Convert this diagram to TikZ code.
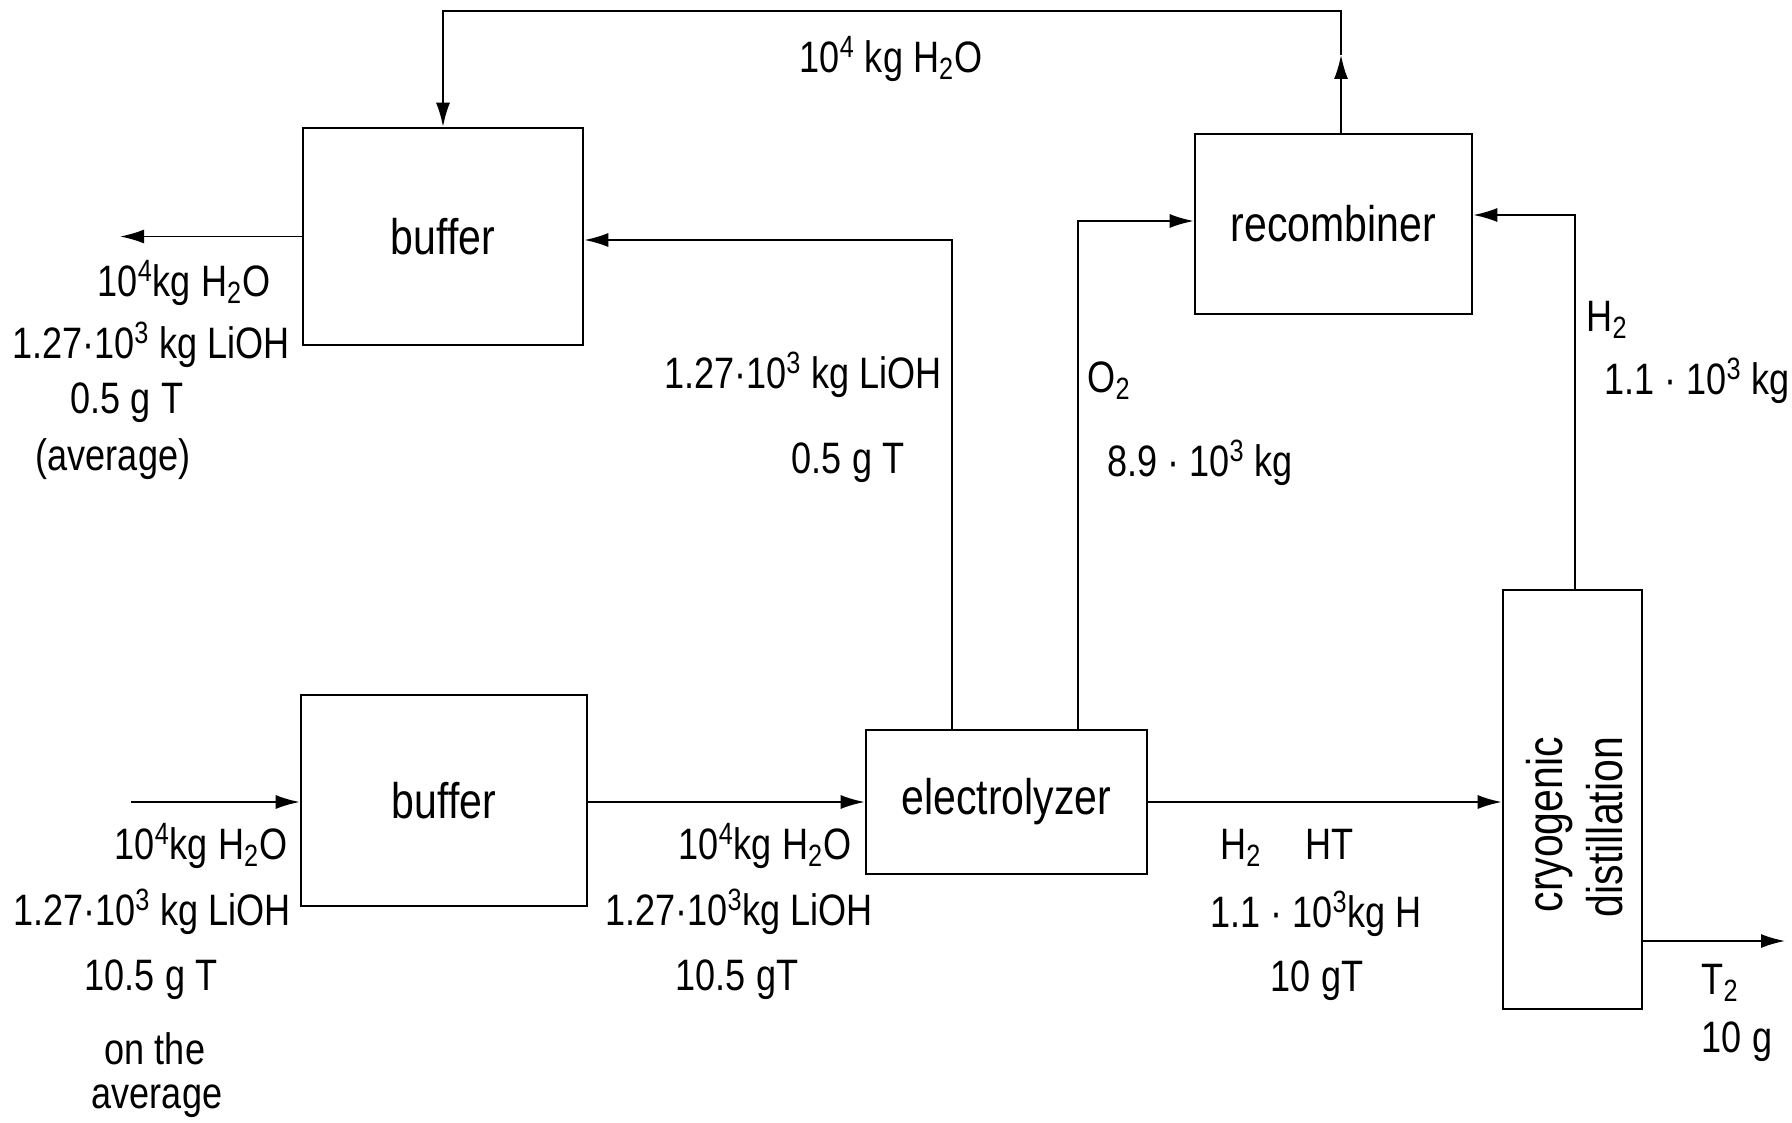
\documentclass[tikz,border=0pt]{standalone}
\usepackage{fontspec}
\setmainfont{Liberation Sans}[FakeStretch=0.82]
\usetikzlibrary{arrows.meta,positioning,calc}

\begin{document}
\begin{tikzpicture}[x=0.5pt,y=-0.5pt,
  unit/.style={draw,line width=1.3pt,inner sep=0pt,font=\fontsize{25}{30}\selectfont},
  flow/.style={line width=0.9pt,-{Latex[length=12pt,width=7pt]}},
  txt/.style={font=\fontsize{22}{26}\selectfont,inner sep=0pt}]
\useasboundingbox (0,0) rectangle (1792,1123);
% process units
\node[unit,minimum width=140pt,minimum height=108.5pt] (buf1) at (443,236.5) {buffer};
\node[unit,minimum width=138.5pt,minimum height=90pt] (rec) at (1333.5,224) {recombiner};
\node[unit,minimum width=143pt,minimum height=105.5pt] (buf2) at (444,800.5) {buffer};
\node[unit,minimum width=140.5pt,minimum height=72pt] (elec) at (1006.5,802) {electrolyzer};
\node[unit,minimum width=69.5pt,minimum height=209.5pt] (cryo) at (1572.5,799.5) {};
\node[txt,rotate=90,align=right,font=\fontsize{25}{30}\selectfont] (cryolbl) at (1575,827) {cryogenic\\distillation};
% helper points
\coordinate (uptip) at (1341,55);
\coordinate (topr) at (1341,11);
\coordinate (topl) at (443,11);
\coordinate (outl) at (120,236.5);
\coordinate (lioh) at (952,240);
\coordinate (oxy) at (1078,221);
\coordinate (hyd) at (1575,215);
\coordinate (inp) at (131,802);
\coordinate (outr) at (1785,941);
% connectors
\draw[flow] (rec.north -| uptip) -- (uptip);
\draw[flow] (uptip) -- (topr) -- (topl) -- (buf1.north);
\draw[flow] (buf1.west) -- (outl);
\draw[flow] (elec.north -| lioh) -- (lioh) -- (buf1.east |- lioh);
\draw[flow] (elec.north -| oxy) -- (oxy) -- (rec.west |- oxy);
\draw[flow] (cryo.north -| hyd) -- (hyd) -- (rec.east |- hyd);
\draw[flow] (inp) -- (buf2.west |- inp);
\draw[flow] (buf2.east |- elec.west) -- (elec.west);
\draw[flow] (elec.east) -- (elec.east -| cryo.west);
\draw[flow] (cryo.east |- outr) -- (outr);
% stream labels
\node[txt] (wret) at (891,59) {10\textsuperscript{4} kg H\textsubscript{2}O};
\node[txt] (oa) at (184,283) {10\textsuperscript{4}kg H\textsubscript{2}O};
\node[txt] (ob) at (151,345) {1.27·10\textsuperscript{3} kg LiOH};
\node[txt] (oc) at (127,403) {0.5 g T};
\node[txt] (od) at (113,459) {(average)};
\node[txt] (ra) at (803,375) {1.27·10\textsuperscript{3} kg LiOH};
\node[txt] (rb) at (848,463) {0.5 g T};
\node[txt] (xa) at (1109,381) {O\textsubscript{2}};
\node[txt] (xb) at (1200,463) {8.9 · 10\textsuperscript{3} kg};
\node[txt] (ha) at (1607,320) {H\textsubscript{2}};
\node[txt] (hb) at (1697,381) {1.1 · 10\textsuperscript{3} kg};
\node[txt] (ia) at (201,846) {10\textsuperscript{4}kg H\textsubscript{2}O};
\node[txt] (ib) at (152,912) {1.27·10\textsuperscript{3} kg LiOH};
\node[txt] (ic) at (151,980) {10.5 g T};
\node[txt] (id) at (155,1049) {on the};
\node[txt] (ie) at (157,1101) {average};
\node[txt] (ea) at (765,846) {10\textsuperscript{4}kg H\textsubscript{2}O};
\node[txt] (eb) at (739,912) {1.27·10\textsuperscript{3}kg LiOH};
\node[txt] (ec) at (737,980) {10.5 gT};
\node[txt] (ga) at (1287,848) {H\textsubscript{2}\quad HT};
\node[txt] (gb) at (1316,914) {1.1 · 10\textsuperscript{3}kg H};
\node[txt] (gc) at (1317,981) {10 gT};
\node[txt] (ta) at (1720,983) {T\textsubscript{2}};
\node[txt] (tb) at (1737,1042) {10 g};
\end{tikzpicture}
\end{document}
